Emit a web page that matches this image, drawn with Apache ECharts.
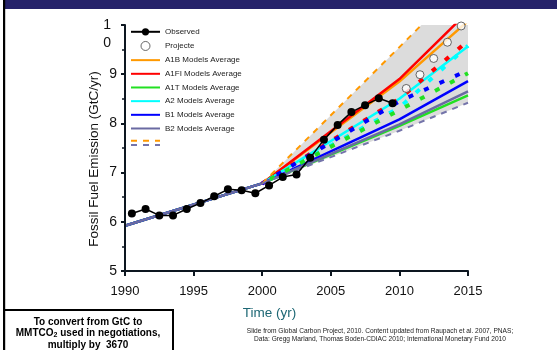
<!DOCTYPE html>
<html><head><meta charset="utf-8">
<script src="https://cdn.jsdelivr.net/npm/echarts@6/dist/echarts.min.js"></script>
<style>html,body{margin:0;padding:0;background:#fff}#c{width:557px;height:350px}</style>
</head><body><div id="c"></div>
<script>
// ---- data ----
const obsYears = [1990.5,1991.5,1992.5,1993.5,1994.5,1995.5,1996.5,1997.5,1998.5,1999.5,2000.5,2001.5,2002.5,2003.5,2004.5,2005.5,2006.5,2007.5,2008.5,2009.5];
const observed = [6.17,6.26,6.13,6.13,6.26,6.38,6.52,6.66,6.64,6.58,6.74,6.91,6.96,7.30,7.67,7.97,8.23,8.37,8.51,8.41];
const projYears = [2010.5,2011.5,2012.5,2013.5,2014.5];
const projected = [8.71,8.99,9.32,9.65,9.98];

const scenYears = [1990,2000,2010,2015];
const a1b  = [5.92,6.78,8.85,10.08];
const a1fi = [5.92,6.78,8.90,10.27];
const a1t  = [5.92,6.78,7.95,8.57];
const a2   = [5.92,6.78,8.50,9.57];
const b1   = [5.92,6.78,8.08,8.86];
const b2   = [5.92,6.78,7.98,8.65];

const rangeYears = [2000,2010,2015];
const upperRange = [6.78,9.55,10.95];
const lowerRange = [6.78,7.85,8.42];
const redMarker   = [6.78,8.50,9.68];
const blueMarker  = [6.78,8.45,9.08];
const cyanMarker  = [6.78,8.32,9.58];
const greenMarker = [6.78,8.27,9.02];

const xTicks = [1990,1995,2000,2005,2010,2015];
const yTicks = [5,6,7,8,9,10];

const FONT = '"Liberation Sans",Arial,sans-serif';
const pairs = (xs, ys) => xs.map((x,i)=>[x,ys[i]]);

function model(name, color, ys, z) {
  return {name, type:'line', data:pairs(scenYears, ys), symbol:'none', z,
    lineStyle:{color, width:2.5}, itemStyle:{color}, clip:true};
}
function marker(name, color, ys, off) {
  return {name, type:'line', data:pairs(rangeYears, ys), symbol:'none', z:4,
    lineStyle:{color, width:4, type:[5,12], dashOffset:off, cap:'butt'}, itemStyle:{color}, clip:true};
}
const noDot = n => ({name:n, itemStyle:{opacity:0}});

// polygon clipping to the plot rectangle (Sutherland-Hodgman)
function clipPoly(pts, r) {
  const edges = [
    p => p[0] >= r.x, p => p[0] <= r.x + r.width,
    p => p[1] >= r.y, p => p[1] <= r.y + r.height
  ];
  const inter = (a, b, k) => {
    let t;
    if (k === 0) t = (r.x - a[0]) / (b[0] - a[0]);
    else if (k === 1) t = (r.x + r.width - a[0]) / (b[0] - a[0]);
    else if (k === 2) t = (r.y - a[1]) / (b[1] - a[1]);
    else t = (r.y + r.height - a[1]) / (b[1] - a[1]);
    return [a[0] + t * (b[0] - a[0]), a[1] + t * (b[1] - a[1])];
  };
  let out = pts;
  edges.forEach((inside, k) => {
    const src = out; out = [];
    for (let i = 0; i < src.length; i++) {
      const cur = src[i], prev = src[(i + src.length - 1) % src.length];
      if (inside(cur)) { if (!inside(prev)) out.push(inter(prev, cur, k)); out.push(cur); }
      else if (inside(prev)) out.push(inter(prev, cur, k));
    }
  });
  return out;
}

const chart = echarts.init(document.getElementById('c'), null, {renderer:'canvas'});
chart.setOption({
  animation:false,
  backgroundColor:'#fff',
  grid:{left:125, right:89, top:22, bottom:79, containLabel:false},
  xAxis:{type:'value', min:xTicks[0], max:xTicks[xTicks.length-1], interval:5, z:10,
    name:'Time (yr)', nameLocation:'middle', nameGap:35, nameMoveOverlap:false,
    nameTextStyle:{fontFamily:FONT, fontSize:13.5, color:'#1d6774', padding:[0,54,0,0]},
    axisLine:{lineStyle:{color:'#0d1620', width:2}},
    axisTick:{show:true, length:5, lineStyle:{color:'#0d1620', width:2}},
    axisLabel:{fontFamily:FONT, fontSize:13, color:'#111', margin:14, formatter:v=>String(v)},
    splitLine:{show:false}},
  yAxis:{type:'value', min:yTicks[0], max:yTicks[yTicks.length-1], interval:1, z:10,
    name:'Fossil Fuel Emission (GtC/yr)', nameLocation:'middle', nameGap:24, nameRotate:90, nameMoveOverlap:false,
    nameTextStyle:{fontFamily:FONT, fontSize:13.5, color:'#111', padding:[0,22,0,0]},
    axisLine:{show:true, lineStyle:{color:'#0d1620', width:2}},
    axisTick:{show:true, length:4, lineStyle:{color:'#0d1620', width:2}},
    minorTick:{show:true, splitNumber:2, length:3, lineStyle:{color:'#0d1620', width:1.5}},
    axisLabel:{fontFamily:FONT, fontSize:14, color:'#111', margin:8,
      formatter:v=> v===10 ? '{e| }\n{t|1}\n{t|0}' : '{n|'+v+'}',
      rich:{n:{fontFamily:FONT, fontSize:14, color:'#111'},
            t:{fontFamily:FONT, fontSize:14, color:'#111', lineHeight:18, padding:[0,6,0,0]},
            e:{fontFamily:FONT, fontSize:14, lineHeight:18}}},
    splitLine:{show:false}},
  legend:[{
    data:[{name:'Observed'},{name:'Projecte', icon:'circle', itemStyle:{borderWidth:1}},noDot('A1B Models Average'),noDot('A1FI Models Average'),noDot('A1T Models Average'),noDot('A2 Models Average'),noDot('B1 Models Average'),noDot('B2 Models Average')],
    orient:'vertical', left:130, top:27.3, padding:0, itemWidth:29, itemHeight:9, itemGap:4.67,
    selectedMode:false,
    textStyle:{fontFamily:FONT, fontSize:8, color:'#222', lineHeight:9}
  },{
    data:[noDot('Range upper'),noDot('Range lower')],
    orient:'vertical', left:130, top:139.5, padding:0, itemWidth:29, itemHeight:3, itemGap:2,
    selectedMode:false, formatter:()=>'',
    textStyle:{fontSize:1, lineHeight:1}
  }],
  graphic:[
    {type:'rect', left:0, top:0, shape:{width:557, height:9}, style:{fill:'#25226a'}, z:100},
    {type:'rect', left:0, top:0, shape:{width:5, height:9}, style:{fill:'#fff'}, z:101},
    {type:'rect', left:3, top:0, shape:{width:2.2, height:350}, style:{fill:'#000'}, z:102},
    {type:'rect', left:3, top:309, shape:{width:169, height:50}, style:{fill:'#fff', stroke:'#000', lineWidth:2}, z:100},
    {type:'text', z:103, style:{
      x:88, y:316, align:'center', verticalAlign:'top',
      text:'{b|To convert from GtC to}\n{b|MMTCO}{s|2}{b| used in negotiations,}\n{b|multiply by  3670}',
      rich:{b:{fontFamily:FONT, fontWeight:'bold', fontSize:10, lineHeight:11.5, fill:'#000'},
            s:{fontFamily:FONT, fontWeight:'bold', fontSize:7, lineHeight:11.5, fill:'#000', padding:[4,0,0,0]}}}},
    {type:'text', z:103, style:{x:380, y:326.5, align:'center', verticalAlign:'top',
      text:'Slide from Global Carbon Project, 2010. Content updated from Raupach et al. 2007, PNAS;\nData: Gregg Marland, Thomas Boden-CDIAC 2010; International Monetary Fund 2010',
      fontFamily:FONT, fontSize:6.6, lineHeight:8.5, fill:'#222'}}
  ],
  series:[
    {name:'range band', type:'custom', z:1, silent:true,
      data:rangeYears.map((x,i)=>[x, lowerRange[i], upperRange[i]]),
      encode:{x:0, y:[1,2]},
      renderItem:(params, api) => {
        if (params.dataIndex !== 0) return null;
        const top = rangeYears.map((x,i)=>api.coord([x, upperRange[i]]));
        const bot = rangeYears.map((x,i)=>api.coord([x, lowerRange[i]])).reverse();
        const pts = clipPoly(top.concat(bot), params.coordSys);
        return {type:'polygon', shape:{points:pts}, style:{fill:'#dcdcdc', stroke:null}};
      }},
    model('A1B Models Average','#ff9900',a1b,3),
    model('A1FI Models Average','#ff0000',a1fi,3),
    model('A1T Models Average','#22e022',a1t,3),
    model('A2 Models Average','#00ffff',a2,3),
    model('B1 Models Average','#0000ff',b1,3),
    model('B2 Models Average','#6a6aa2',b2,3),
    marker('A1FI marker','#ff0000',redMarker,0),
    marker('B1 marker','#0000ff',blueMarker,0),
    marker('A2 marker','#00ffff',cyanMarker,8),
    marker('A1T marker','#22e022',greenMarker,8),
    {name:'Range upper', type:'line', data:pairs(rangeYears, upperRange), symbol:'none', z:5,
      lineStyle:{color:'#ff9900', width:2, type:[6,6]}, itemStyle:{color:'#ff9900'}, clip:true},
    {name:'Range lower', type:'line', data:pairs(rangeYears, lowerRange), symbol:'none', z:5,
      lineStyle:{color:'#7474aa', width:2, type:[6,6]}, itemStyle:{color:'#7474aa'}, clip:true},
    {name:'Observed', type:'line', data:pairs(obsYears, observed), symbol:'circle', symbolSize:8, z:6,
      lineStyle:{color:'#000', width:1.5}, itemStyle:{color:'#000'}, clip:true},
    {name:'Projecte', type:'scatter', data:pairs(projYears, projected), symbol:'circle', symbolSize:8, z:7,
      itemStyle:{color:'#fff', borderColor:'#444', borderWidth:1}, clip:false}
  ]
});
</script></body></html>
